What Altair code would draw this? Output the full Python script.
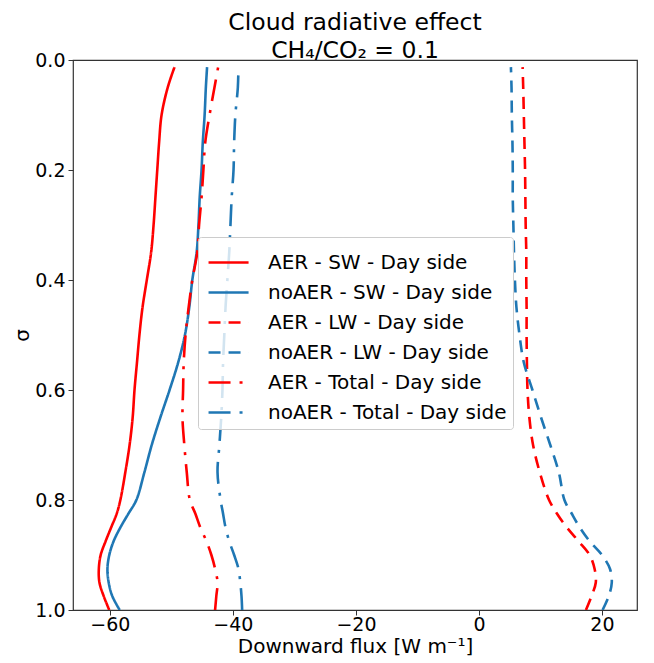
import altair as alt
import pandas as pd

# sigma levels (shared by all profiles)
sigma = [0.013, 0.05, 0.1, 0.15, 0.2, 0.25, 0.3, 0.35, 0.4, 0.45, 0.5, 0.55,
         0.6, 0.65, 0.7, 0.75, 0.8, 0.825, 0.85, 0.875, 0.9, 0.925, 0.95, 0.975, 1.0]

aer_sw = [-49.5, -50.6, -51.6, -52.0, -52.3, -52.6, -52.9, -53.3, -54.0, -54.7, -55.2, -55.6,
          -56.0, -56.3, -56.8, -57.5, -58.3, -58.9, -59.8, -60.7, -61.5, -61.8, -61.7, -61.0, -60.1]
noaer_sw = [-44.2, -44.4, -44.6, -44.9, -45.1, -45.4, -45.6, -45.9, -46.6, -47.1, -47.8, -48.9,
            -50.3, -51.8, -53.2, -54.4, -55.7, -57.0, -58.3, -59.4, -60.1, -60.4, -60.2, -59.6, -58.4]
aer_lw = [7.1, 7.2, 7.3, 7.4, 7.5, 7.55, 7.6, 7.7, 7.7, 7.75, 7.75, 7.8,
          7.9, 8.2, 8.8, 9.9, 11.4, 12.7, 14.3, 16.2, 18.0, 18.8, 19.0, 18.3, 17.4]
noaer_lw = [5.2, 5.3, 5.35, 5.45, 5.5, 5.5, 5.6, 5.7, 5.85, 6.1, 6.6, 7.3,
            8.7, 10.1, 11.6, 13.0, 13.9, 15.1, 16.4, 18.0, 20.0, 21.3, 21.6, 21.1, 20.1]
aer_total = [-42.4, -43.0, -43.8, -44.5, -44.8, -45.1, -45.5, -45.8, -46.6, -47.2, -47.7, -48.0,
             -48.1, -48.2, -47.9, -47.5, -47.0, -46.1, -45.3, -44.3, -43.5, -42.9, -42.5, -42.7, -42.9]
noaer_total = [-39.1, -39.2, -39.6, -39.8, -39.9, -40.2, -40.4, -40.6, -40.9, -41.2, -41.4, -41.6,
               -41.7, -41.9, -42.2, -42.5, -42.0, -41.6, -41.2, -40.6, -39.8, -39.1, -38.8, -38.6, -38.5]

series_names = ["AER - SW - Day side", "noAER - SW - Day side",
                "AER - LW - Day side", "noAER - LW - Day side",
                "AER - Total - Day side", "noAER - Total - Day side"]
series_values = [aer_sw, noaer_sw, aer_lw, noaer_lw, aer_total, noaer_total]
colors = ["#ff0000", "#1f77b4", "#ff0000", "#1f77b4", "#ff0000", "#1f77b4"]
dashes = [[1, 0], [1, 0], [12, 8], [12, 8], [22, 9, 3, 9], [22, 9, 3, 9]]

x_ticks = [-60, -40, -20, 0, 20]
y_ticks = [0.0, 0.2, 0.4, 0.6, 0.8, 1.0]

rows = []
for name, vals in zip(series_names, series_values):
    for s, v in zip(sigma, vals):
        rows.append({"series": name, "sigma": s, "flux": v})
df = pd.DataFrame(rows)

FONT = "DejaVu Sans"

legend = alt.Legend(
    title=None, orient="none", legendX=125, legendY=177,
    labelFontSize=20, labelFont=FONT, labelColor="black", labelLimit=400,
    symbolType="M-0.83,0H1.39", symbolSize=1300, symbolStrokeWidth=2.6,
    labelOffset=25, padding=6, rowPadding=0,
    fillColor="rgba(255,255,255,0.8)", strokeColor="#cccccc", cornerRadius=3,
)

chart = alt.Chart(df).mark_line(strokeWidth=2.6, clip=True, interpolate="catmull-rom").encode(
    x=alt.X("flux:Q",
            scale=alt.Scale(domain=[-66, 25.7], nice=False, zero=False),
            axis=alt.Axis(values=x_ticks, title="Downward flux [W m⁻¹]", grid=False,
                          domain=False, tickColor="#333", tickSize=5, labelPadding=0,
                          labelFontSize=19, labelFont=FONT, labelColor="black",
                          titleFontSize=20, titleFont=FONT, titleFontWeight="normal",
                          titleColor="black", titlePadding=2)),
    y=alt.Y("sigma:Q",
            scale=alt.Scale(domain=[0, 1], reverse=True, nice=False, zero=False),
            axis=alt.Axis(values=y_ticks, format=".1f", title="σ", grid=False,
                          domain=False, tickColor="#333", tickSize=5, labelPadding=3,
                          labelFontSize=19, labelFont=FONT, labelColor="black",
                          titleFontSize=20, titleFont=FONT, titleFontWeight="normal",
                          titleColor="black", titlePadding=2)),
    color=alt.Color("series:N", scale=alt.Scale(domain=series_names, range=colors), legend=legend),
    strokeDash=alt.StrokeDash("series:N", scale=alt.Scale(domain=series_names, range=dashes), legend=legend),
    order=alt.Order("sigma:Q", sort="descending"),
).properties(
    width=564, height=550,
    title=alt.TitleParams(text=["Cloud radiative effect", "CH₄/CO₂ = 0.1"],
                          fontSize=23.5, font=FONT, fontWeight="normal", color="black",
                          anchor="middle", offset=-11, lineHeight=28),
    autosize=alt.AutoSizeParams(type="none"),
    padding={"left": 65, "top": 52, "right": 9, "bottom": 52},
).configure(background="white").configure_view(stroke="#333", strokeWidth=1.2)

chart.save("out.html", embed_options={"renderer": "svg", "actions": False})
